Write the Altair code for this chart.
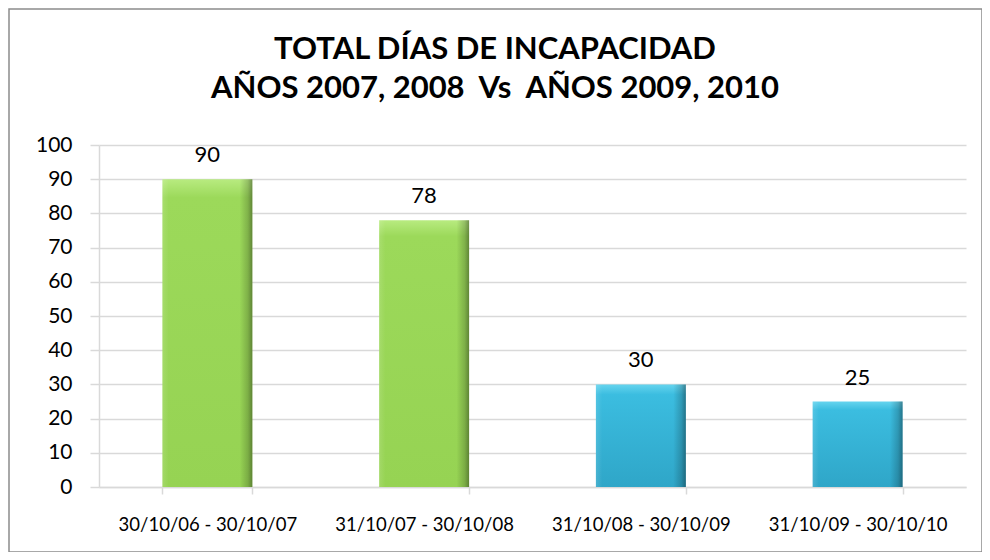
import altair as alt
import pandas as pd

periodos = ["30/10/06 - 30/10/07", "31/10/07 - 30/10/08", "31/10/08 - 30/10/09", "31/10/09 - 30/10/10"]
dias = [90, 78, 30, 25]
grupo = ["2007-2008", "2007-2008", "2009-2010", "2009-2010"]
titulo = ["TOTAL DÍAS DE INCAPACIDAD", "AÑOS 2007, 2008\u00a0 Vs\u00a0 AÑOS 2009, 2010"]

df = pd.DataFrame({"periodo": periodos, "dias": dias, "grupo": grupo})

FONT = "Lato"
GRID = "#d9d9d9"

x_enc = alt.X(
    "periodo:N",
    sort=periodos,
    title=None,
    scale=alt.Scale(paddingInner=0.585, paddingOuter=0.2925),
    axis=alt.Axis(
        labelAngle=0, tickBand="extent", tickSize=7, tickColor=GRID, domainColor=GRID,
        domainWidth=1.5, tickWidth=1.5, labelFont=FONT, labelFontSize=18.5, labelColor="#000000",
        labelPadding=21, grid=False, labelLimit=0,
    ),
)
y_enc = alt.Y(
    "dias:Q",
    title=None,
    scale=alt.Scale(domain=[0, 100], nice=False),
    axis=alt.Axis(
        values=list(range(0, 101, 10)), tickSize=9, tickColor=GRID, domainColor=GRID,
        domainWidth=1.5, tickWidth=1.5, gridColor=GRID, gridWidth=1.5, labelFont=FONT,
        labelFontSize=21, labelColor="#000000", labelPadding=18,
    ),
)

green_v = alt.LinearGradient(
    gradient="linear", x1=0, y1=0, x2=0, y2=1,
    stops=[alt.GradientStop(color="#b8eb80", offset=0),
           alt.GradientStop(color="#9cd95a", offset=0.06),
           alt.GradientStop(color="#96d353", offset=1)],
)
blue_v = alt.LinearGradient(
    gradient="linear", x1=0, y1=0, x2=0, y2=1,
    stops=[alt.GradientStop(color="#66d4ee", offset=0),
           alt.GradientStop(color="#3bbde0", offset=0.1),
           alt.GradientStop(color="#2fa6c8", offset=1)],
)
shade = alt.LinearGradient(
    gradient="linear", x1=0, y1=0, x2=1, y2=0,
    stops=[alt.GradientStop(color="rgba(255,255,255,0.12)", offset=0),
           alt.GradientStop(color="rgba(255,255,255,0)", offset=0.07),
           alt.GradientStop(color="rgba(0,0,0,0)", offset=0.86),
           alt.GradientStop(color="rgba(0,0,0,0.18)", offset=0.95),
           alt.GradientStop(color="rgba(0,0,0,0.38)", offset=1)],
)

base = alt.Chart(df)
bars_g = base.transform_filter(alt.datum.grupo == "2007-2008").mark_bar(color=green_v).encode(x=x_enc, y=y_enc)
bars_b = base.transform_filter(alt.datum.grupo == "2009-2010").mark_bar(color=blue_v).encode(x=x_enc, y=y_enc)
bars_s = base.mark_bar(color=shade).encode(x=x_enc, y=y_enc)
labels = base.mark_text(font=FONT, fontSize=22, color="#000000", baseline="alphabetic", dy=-17).encode(
    x=x_enc, y=y_enc, text="dias:Q"
)

border = alt.Chart(alt.Data(values=[{}])).mark_rect(
    fill=None, stroke="#8c8c8c", strokeWidth=1.5
).encode(x=alt.value(-90), x2=alt.value(883), y=alt.value(-136), y2=alt.value(407))

title1 = alt.Chart(alt.Data(values=[{"t": titulo[0]}])).mark_text(
    font=FONT, fontSize=31, fontWeight="bold", color="#000000", align="center", baseline="alphabetic"
).encode(x=alt.value(396), y=alt.value(-86), text="t:N")
title2 = alt.Chart(alt.Data(values=[{"t": titulo[1]}])).mark_text(
    font=FONT, fontSize=31, fontWeight="bold", color="#000000", align="center", baseline="alphabetic"
).encode(x=alt.value(396), y=alt.value(-47), text="t:N")

chart = alt.layer(border, title1, title2, bars_g, bars_b, bars_s, labels).properties(
    width=867,
    height=342,
    padding={"left": 91, "top": 137, "right": 16, "bottom": 65},
    autosize=alt.AutoSizeParams(type="none"),
).configure_view(stroke=None)

chart.save("out.html", embed_options={"renderer": "svg", "actions": False})
